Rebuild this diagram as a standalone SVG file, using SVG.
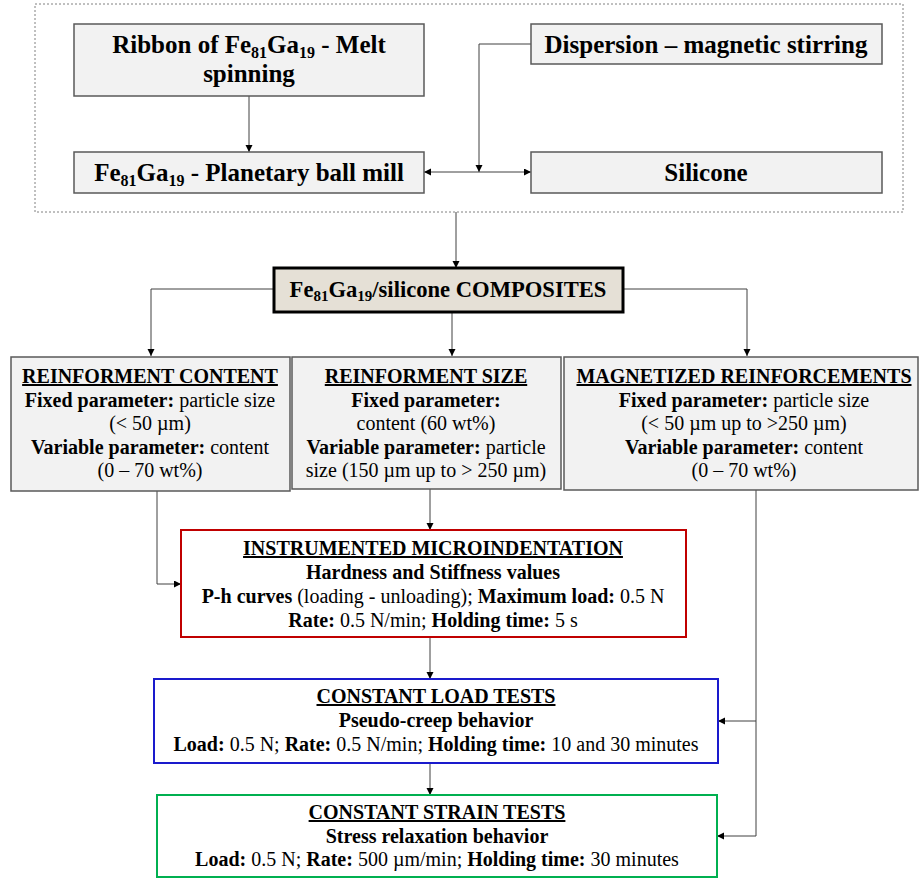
<svg xmlns="http://www.w3.org/2000/svg" width="920" height="882" viewBox="0 0 920 882">
<style>
text{font-family:'Liberation Serif','DejaVu Serif',serif;fill:#000;text-anchor:middle}
.big{font-size:25px;font-weight:bold}
.mid{font-size:22.6px;font-weight:bold}
.t{font-size:20px}
.b{font-weight:bold}
.u{font-weight:bold;text-decoration:underline}
.gray{fill:#f2f2f2;stroke:#595959;stroke-width:1.5}
.conn{fill:none;stroke:#404040;stroke-width:1}
</style>
<defs>
<marker id="ah" markerUnits="userSpaceOnUse" markerWidth="8" markerHeight="8" refX="7" refY="3.5" orient="auto-start-reverse">
<path d="M0,0 L7,3.5 L0,7 z" fill="#000"/>
</marker>
</defs>
<rect x="35" y="4" width="868" height="208" fill="none" stroke="#808080" stroke-width="1" stroke-dasharray="2,2"/>
<g id="connectors">
<path class="conn" d="M249,96 V152" marker-end="url(#ah)"/>
<path class="conn" d="M531,44 H479 V172" marker-end="url(#ah)"/>
<path class="conn" d="M424,172 H531" marker-start="url(#ah)" marker-end="url(#ah)"/>
<path class="conn" d="M456,212 V268" marker-end="url(#ah)"/>
<path class="conn" d="M274,289 H151 V356" marker-end="url(#ah)"/>
<path class="conn" d="M452,313 V356" marker-end="url(#ah)"/>
<path class="conn" d="M623,289 H747 V356" marker-end="url(#ah)"/>
<path class="conn" d="M157,491 V584 H181" marker-end="url(#ah)"/>
<path class="conn" d="M430,489 V530" marker-end="url(#ah)"/>
<path class="conn" d="M430,637 V679" marker-end="url(#ah)"/>
<path class="conn" d="M430,763 V795" marker-end="url(#ah)"/>
<path class="conn" d="M756,490 V721 H718" marker-end="url(#ah)"/>
<path class="conn" d="M756,721 V836 H717" marker-end="url(#ah)"/>
</g>
<g id="ribbon">
<rect class="gray" x="74" y="24" width="350" height="72"/>
<text class="big" x="249" y="53">Ribbon of Fe<tspan font-size="16" dy="5">81</tspan><tspan dy="-5">Ga</tspan><tspan font-size="16" dy="5">19</tspan><tspan dy="-5"> - Melt</tspan></text>
<text class="big" x="249" y="82">spinning</text>
</g>
<g id="ballmill">
<rect class="gray" x="74" y="152" width="350" height="41"/>
<text class="big" x="249" y="181">Fe<tspan font-size="16" dy="5">81</tspan><tspan dy="-5">Ga</tspan><tspan font-size="16" dy="5">19</tspan><tspan dy="-5"> - Planetary ball mill</tspan></text>
</g>
<g id="dispersion">
<rect class="gray" x="531" y="24" width="351" height="40"/>
<text class="big" x="706" y="53">Dispersion – magnetic stirring</text>
</g>
<g id="silicone">
<rect class="gray" x="531" y="152" width="351" height="41"/>
<text class="big" x="706" y="181">Silicone</text>
</g>
<g id="composites">
<rect x="274" y="268" width="349" height="44" fill="#e5e0d6" stroke="#000" stroke-width="3"/>
<text class="mid" x="448" y="297">Fe<tspan font-size="15" dy="4">81</tspan><tspan dy="-4">Ga</tspan><tspan font-size="15" dy="4">19</tspan><tspan dy="-4">/silicone COMPOSITES</tspan></text>
</g>
<g id="content">
<rect class="gray" x="11" y="357" width="279" height="134"/>
<text class="t" x="150" y="383"><tspan class="u">REINFORMENT CONTENT</tspan></text>
<text class="t" x="150" y="407"><tspan class="b">Fixed parameter:</tspan> particle size</text>
<text class="t" x="150" y="430">(&lt; 50 µm)</text>
<text class="t" x="150" y="454"><tspan class="b">Variable parameter:</tspan> content</text>
<text class="t" x="150" y="477">(0 – 70 wt%)</text>
</g>
<g id="size">
<rect class="gray" x="292" y="357" width="269" height="132"/>
<text class="t" x="426" y="383"><tspan class="u">REINFORMENT SIZE</tspan></text>
<text class="t" x="426" y="407"><tspan class="b">Fixed parameter:</tspan></text>
<text class="t" x="426" y="430">content (60 wt%)</text>
<text class="t" x="426" y="454"><tspan class="b">Variable parameter:</tspan> particle</text>
<text class="t" x="426" y="477">size (150 µm up to &gt; 250 µm)</text>
</g>
<g id="magnetized">
<rect class="gray" x="564" y="357" width="354" height="133"/>
<text class="t" x="744" y="383"><tspan class="u">MAGNETIZED REINFORCEMENTS</tspan></text>
<text class="t" x="744" y="407"><tspan class="b">Fixed parameter:</tspan> particle size</text>
<text class="t" x="744" y="430">(&lt; 50 µm up to &gt;250 µm)</text>
<text class="t" x="744" y="454"><tspan class="b">Variable parameter:</tspan> content</text>
<text class="t" x="744" y="477">(0 – 70 wt%)</text>
</g>
<g id="microindentation">
<rect x="181" y="530" width="505" height="107" fill="#fff" stroke="#c00000" stroke-width="2"/>
<text class="t" x="433" y="555"><tspan class="u">INSTRUMENTED MICROINDENTATION</tspan></text>
<text class="t" x="433" y="579"><tspan class="b">Hardness and Stiffness values</tspan></text>
<text class="t" x="433" y="603"><tspan class="b">P-h curves</tspan> (loading - unloading); <tspan class="b">Maximum load:</tspan> 0.5 N</text>
<text class="t" x="433" y="627"><tspan class="b">Rate:</tspan> 0.5 N/min; <tspan class="b">Holding time:</tspan> 5 s</text>
</g>
<g id="loadtests">
<rect x="154" y="679" width="564" height="84" fill="#fff" stroke="#1a1acc" stroke-width="2"/>
<text class="t" x="436" y="703"><tspan class="u">CONSTANT LOAD TESTS</tspan></text>
<text class="t" x="436" y="727"><tspan class="b">Pseudo-creep behavior</tspan></text>
<text class="t" x="436" y="751"><tspan class="b">Load:</tspan> 0.5 N; <tspan class="b">Rate:</tspan> 0.5 N/min; <tspan class="b">Holding time:</tspan> 10 and 30 minutes</text>
</g>
<g id="straintests">
<rect x="157" y="795" width="560" height="82" fill="#fff" stroke="#00b050" stroke-width="2"/>
<text class="t" x="437" y="819"><tspan class="u">CONSTANT STRAIN TESTS</tspan></text>
<text class="t" x="437" y="843"><tspan class="b">Stress relaxation behavior</tspan></text>
<text class="t" x="437" y="866"><tspan class="b">Load:</tspan> 0.5 N; <tspan class="b">Rate:</tspan> 500 µm/min; <tspan class="b">Holding time:</tspan> 30 minutes</text>
</g>
</svg>
